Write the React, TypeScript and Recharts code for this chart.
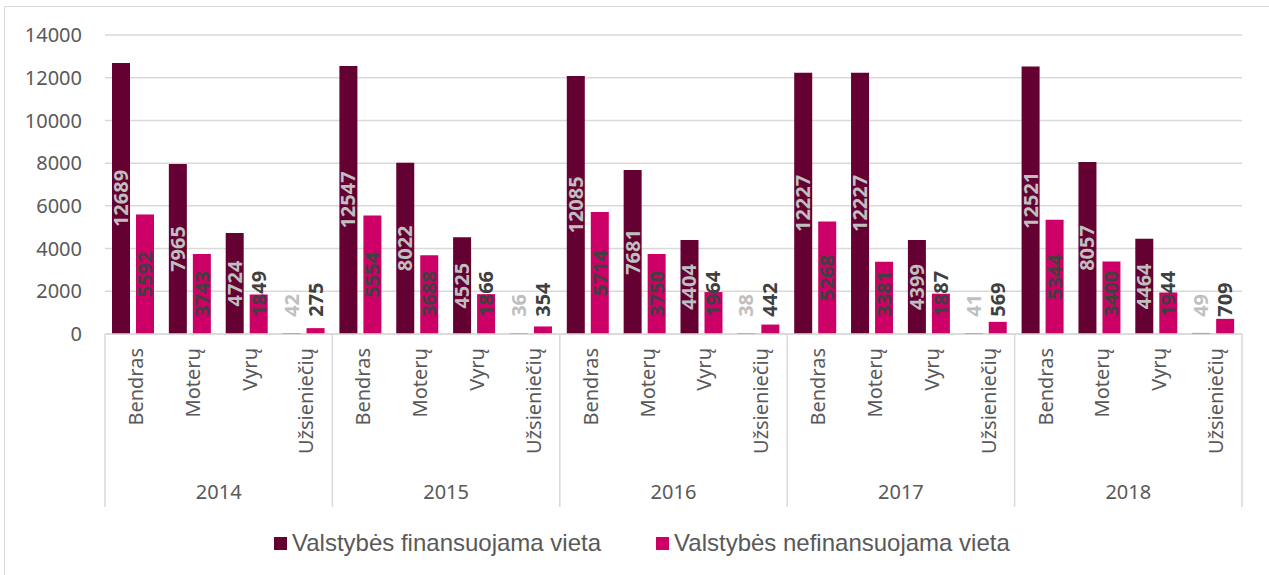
import React from 'react'
import { BarChart, Bar, XAxis, YAxis, CartesianGrid, Legend, LabelList } from 'recharts'

const years = ['2014', '2015', '2016', '2017', '2018']
const categories = ['Bendras', 'Moterų', 'Vyrų', 'Užsieniečių']
// Valstybės finansuojama vieta, by year then category
const funded = [12689, 7965, 4724, 42, 12547, 8022, 4525, 36, 12085, 7681, 4404, 38, 12227, 12227, 4399, 41, 12521, 8057, 4464, 49]
// Valstybės nefinansuojama vieta
const unfunded = [5592, 3743, 1849, 275, 5554, 3688, 1866, 354, 5714, 3750, 1964, 442, 5268, 3381, 1887, 569, 5344, 3400, 1944, 709]
const yTicks = [0, 2000, 4000, 6000, 8000, 10000, 12000, 14000]

const MAROON = '#650033'
const PINK = '#CC0066'
const GRID = '#D9D9D9'
const TEXT = '#595959'
const FONT = '"Noto Sans", sans-serif'

const W = 1269
const H = 575
const PLOT_LEFT = 105
const PLOT_RIGHT = 1242
const PLOT_TOP = 35
const PLOT_BOTTOM = 334
const AXIS_BOTTOM = 507
const BAND = (PLOT_RIGHT - PLOT_LEFT) / (years.length * categories.length)

const data = funded.map((v, i) => ({
  cat: categories[i % categories.length],
  year: years[Math.floor(i / categories.length)],
  funded: v,
  unfunded: unfunded[i],
}))

// two level axis: rotated category + year group with separators
function CategoryTick(props: any) {
  const { x, index, payload } = props
  const ty = PLOT_BOTTOM + 14
  const n = categories.length
  return (
    <g>
      <text
        x={x}
        y={ty}
        dy={9.5}
        transform={`rotate(-90, ${x}, ${ty})`}
        textAnchor="end"
        fill={TEXT}
        fontSize={20}
        fontFamily={FONT}
      >
        {payload.value}
      </text>
      {index % n === 0 && (
        <>
          <line x1={x - BAND / 2} x2={x - BAND / 2} y1={PLOT_BOTTOM} y2={AXIS_BOTTOM} stroke={GRID} strokeWidth={1.5} />
          <text x={x + BAND * 1.5} y={499} textAnchor="middle" fill={TEXT} fontSize={20} fontFamily={FONT}>
            {years[index / n]}
          </text>
        </>
      )}
      {index === funded.length - 1 && (
        <line x1={x + BAND / 2} x2={x + BAND / 2} y1={PLOT_BOTTOM} y2={AXIS_BOTTOM} stroke={GRID} strokeWidth={1.5} />
      )}
    </g>
  )
}

const barLabel = (color: string) => (props: any) => {
  const { x, y, width, height, value } = props
  const base = y + height
  const len = String(value).length * 11.6
  let cy = y + height / 2
  const maxCy = base - 17 - len / 2
  if (cy > maxCy) cy = maxCy
  const cx = x + width / 2
  return (
    <text
      x={cx}
      y={cy}
      dy={7}
      transform={`rotate(-90, ${cx}, ${cy})`}
      textAnchor="middle"
      fill={color}
      fontSize={20}
      fontWeight="bold"
      fontFamily={FONT}
    >
      {value}
    </text>
  )
}

function LegendContent(props: any) {
  const { payload } = props
  return (
    <div style={{ display: 'flex', alignItems: 'center', height: 30, paddingLeft: 274 }}>
      {payload.map((p: any, i: number) => (
        <div key={p.value} style={{ display: 'flex', alignItems: 'center', marginRight: i === 0 ? 55 : 0 }}>
          <div style={{ width: 13, height: 13, background: p.color, marginRight: 5 }} />
          <span style={{ fontFamily: '"Liberation Sans", Arial, sans-serif', fontSize: 24, color: TEXT, whiteSpace: 'nowrap' }}>
            {p.value}
          </span>
        </div>
      ))}
    </div>
  )
}

export default function App() {
  return (
    <div style={{ position: 'absolute', left: 0, top: 0, width: W, height: H, overflow: 'hidden', background: '#fff' }}>
      <div style={{ position: 'absolute', left: 4, top: 6, width: W + 20, height: H + 20, border: `1px solid ${GRID}` }} />
      <BarChart
        width={W}
        height={H}
        data={data}
        margin={{ top: PLOT_TOP, right: W - PLOT_RIGHT, left: 45, bottom: H - AXIS_BOTTOM }}
        barGap={6}
        style={{ position: 'absolute', left: 0, top: 0 }}
      >
        <CartesianGrid vertical={false} stroke={GRID} strokeWidth={1.5} />
        <XAxis
          dataKey="cat"
          interval={0}
          tickLine={false}
          axisLine={{ stroke: GRID, strokeWidth: 1.5 }}
          height={AXIS_BOTTOM - PLOT_BOTTOM}
          tick={<CategoryTick />}
        />
        <YAxis
          domain={[0, 14000]}
          ticks={yTicks}
          width={60}
          axisLine={false}
          tickLine={false}
          tickMargin={17}
          tick={{ fill: TEXT, fontSize: 20, fontFamily: FONT }}
        />
        <Legend layout="horizontal" verticalAlign="middle" align="center" wrapperStyle={{ top: 528, left: 0, width: W, height: 30 }} content={<LegendContent />} />
        <Bar dataKey="funded" name="Valstybės finansuojama vieta" fill={MAROON} barSize={18} isAnimationActive={false}>
          <LabelList dataKey="funded" content={barLabel('#BFBFBF')} />
        </Bar>
        <Bar dataKey="unfunded" name="Valstybės nefinansuojama vieta" fill={PINK} barSize={18} isAnimationActive={false}>
          <LabelList dataKey="unfunded" content={barLabel('#404040')} />
        </Bar>
      </BarChart>
    </div>
  )
}
